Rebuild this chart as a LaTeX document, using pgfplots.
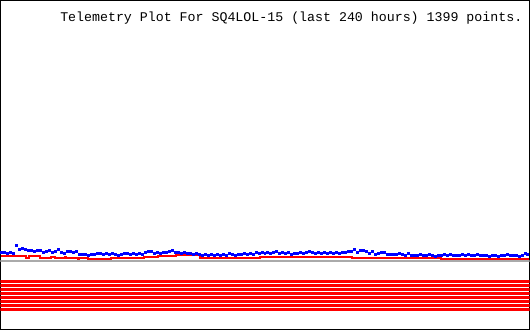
\documentclass[border=0pt]{standalone}
\usepackage{fontspec}
\setmonofont{Liberation Mono}
\usepackage{pgfplots}
\pgfplotsset{compat=1.18}
\definecolor{pblue}{RGB}{0,0,255}
\definecolor{pred}{RGB}{255,0,0}
\definecolor{pgray}{RGB}{170,170,170}
\begin{document}
\begin{tikzpicture}
\begin{axis}[
  width=530pt, height=330pt, scale only axis,
  xmin=0, xmax=530, ymin=0, ymax=330, y dir=reverse,
  axis line style={black, line width=1pt},
  xtick=\empty, ytick=\empty,
  clip=true,
]
% red bands
\addplot[pred, line width=3pt, forget plot] coordinates {(0,281.5) (530,281.5)};
\addplot[pred, line width=3pt, forget plot] coordinates {(0,285.5) (530,285.5)};
\addplot[pred, line width=3pt, forget plot] coordinates {(0,289.5) (530,289.5)};
\addplot[pred, line width=3pt, forget plot] coordinates {(0,293.5) (530,293.5)};
\addplot[pred, line width=3pt, forget plot] coordinates {(0,297.5) (530,297.5)};
\addplot[pred, line width=3pt, forget plot] coordinates {(0,301.5) (530,301.5)};
\addplot[pred, line width=3pt, forget plot] coordinates {(0,305.5) (530,305.5)};
\addplot[pred, line width=3pt, forget plot] coordinates {(0,309.5) (530,309.5)};
% gray baseline
\addplot[pgray, line width=2pt, forget plot] coordinates {(0,261) (530,261)};
% red series
\addplot[pred, line width=2pt, const plot, forget plot] coordinates {
(1,256) (26,257.5) (29,256) (40,257.5) (51,256.5) (55,257.5) (65,256.5) (66,257.5)
(78,259) (79,257.5) (88,258.5) (111,257.5) (144,256.5) (158,255.5) (176,255)
(200,257.5) (228,258) (232,257.5) (260,256.5) (300,256.5) (302,257) (305,256.5)
(352,257.5) (380,258) (384,257.5) (441,258.5) (529,258.5)};
% blue series
\addplot[only marks, mark=square*, mark size=1pt, pblue, mark options={draw=pblue, fill=pblue, line width=0pt}, forget plot] table {
1 252
4 252.5
7 253
10 252
13 253
16 245
19 249
22 248
25 249
28 250.5
31 250
34 251
37 250
40 250
43 252
46 251
49 250.5
52 252
55 251
58 249.5
61 252.5
64 253
67 251
70 251.5
73 252
76 251
79 254
82 254.5
85 254
88 255
91 254
94 254.5
97 253
100 253.5
103 254
106 253
109 254.5
112 253
115 254
118 255
121 254
124 253.5
127 253
130 254
133 253
136 254
139 253.5
142 254
145 252
148 251
151 251.5
154 253
157 252.5
160 253
163 252
166 252.5
169 251.5
172 250
175 252
178 252.5
181 253
184 252
187 253.5
190 253
193 254
196 253.5
199 254.5
202 255
205 254
208 255.5
211 254.5
214 255
217 254
220 255.5
223 254
226 255
229 253
232 254.5
235 255
238 254
241 254.5
244 253.5
247 254
250 253
253 254
256 252.5
259 253
262 252
265 253.5
268 252
271 253
274 252.5
277 251.5
280 253
283 252
286 253
289 252.5
292 254
295 253
298 253.5
301 252
304 253
307 252.5
310 251.5
313 252.5
316 253
319 252
322 253.5
325 252.5
328 253
331 252
334 253.5
337 252
340 253
343 252.5
346 252
349 251.5
352 251
355 249
358 252
361 250
364 250.5
367 251
370 253
373 251.5
376 254
379 253.5
382 252
385 252
388 254
391 254.5
394 254
397 254.5
400 253.5
403 254
406 255
409 253.5
412 255
415 255.5
418 255
421 254.5
424 255
427 255.5
430 254.5
433 255
436 256
439 255
442 255.5
445 254.5
448 255
451 254
454 255
457 255.5
460 255
463 254.5
466 255
469 254
472 255.5
475 255
478 254
481 255
484 255.5
487 255
490 256
493 255.5
496 255
499 256
502 255.5
505 255
508 254.5
511 255.5
514 255
517 255.5
520 256
523 255.5
526 253
528 254
};
\node[anchor=base east, inner sep=0pt, font=\ttfamily\fontsize{13.3}{14}\selectfont] at (axis cs:523,21) {Telemetry Plot For SQ4LOL-15 (last 240 hours) 1399 points.};
\end{axis}
\end{tikzpicture}
\end{document}
